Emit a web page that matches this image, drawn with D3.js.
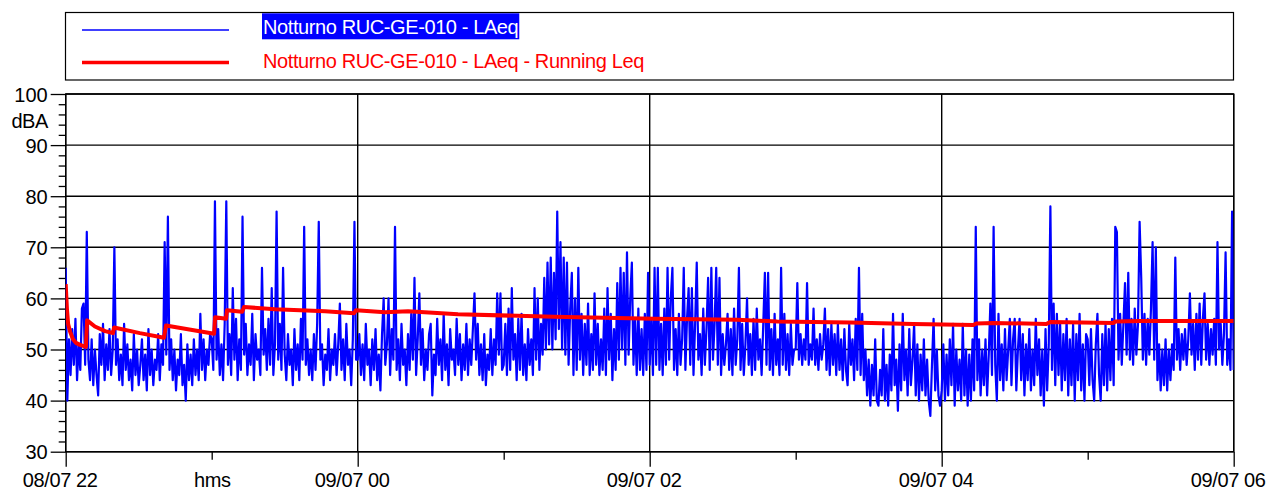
<!DOCTYPE html>
<html>
<head>
<meta charset="utf-8">
<script src="https://cdn.jsdelivr.net/npm/d3@7"></script>
<style>
  html, body { margin: 0; padding: 0; background: #fff; }
  svg { display: block; }
  text { font-family: "Liberation Sans", Arial, sans-serif; }
</style>
</head>
<body>
<svg id="chart" width="1272" height="490"></svg>
<script>
// LAeq samples, 40 s apart, one array per hour starting at 08/07 22:00
const laeq22 = [66,40,52,45,54,47,56,44,51,46, 58,59,47,73,48,44,52,43,50,45,
  41,53,47,55,44,51,46,54,45,50, 70,47,52,44,49,43,55,46,51,44,
  48,42,53,45,50,43,47,52,44,49, 42,54,45,50,43,48,46,53,44,51,
  47,71,49,76,46,52,44,50,42,48, 45,53,43,47,40,51,44,49,43,52,
  45,50,44,57,46,52,44,50,47,53];
const laeq23 = [52,46,79,48,54,45,51,44,55,79, 47,53,45,62,48,56,44,52,46,76,
  49,55,45,51,47,57,44,53,48,50, 45,66,49,54,46,56,47,62,45,51,
  77,48,55,46,66,49,44,53,47,50, 43,54,46,51,44,56,48,74,47,52,
  45,50,44,53,46,55,75,48,51,43, 49,46,54,44,50,47,53,45,51,59,
  46,52,44,55,47,50,43,52,75,48];
const laeq00 = [48,53,45,51,44,55,47,50,43,52, 46,54,44,49,42,53,60,47,51,60,
  45,54,48,74,46,52,44,55,47,50, 43,53,46,57,48,64,45,52,61,47,
  54,44,50,46,53,55,41,49,45,56, 47,52,44,57,46,51,43,54,48,50,
  45,56,47,53,44,51,46,55,45,52, 47,54,61,48,55,45,51,44,53,43,
  49,46,54,45,52,47,61,49,61,46];
const laeq01 = [47,55,45,58,46,62,48,53,44,56, 46,57,45,51,44,54,47,52,45,62,
  48,60,46,55,49,64,50,67,51,68, 50,65,52,77,54,71,50,68,49,67,
  47,58,65,45,60,46,66,48,57,45, 55,47,59,45,53,46,61,47,55,45,
  52,46,58,45,62,48,57,44,54,46, 63,48,66,50,65,47,69,49,60,67,
  47,56,45,58,46,54,45,57,46,65];
const laeq02 = [47,56,45,66,47,66,46,55,45,58, 47,66,48,60,66,46,54,45,57,47,
  52,66,46,56,62,47,62,45,55,67, 48,53,45,58,47,54,64,46,66,48,
  55,66,47,64,45,53,47,51,57,46, 54,45,58,47,52,66,46,55,45,51,
  60,47,53,45,56,46,58,48,52,45, 55,65,47,65,46,54,45,57,47,52,
  45,66,47,57,46,53,45,55,47,50];
const laeq03 = [50,63,48,53,47,52,48,63,47,51, 48,58,47,52,46,53,48,51,58,46,
  54,45,55,47,53,45,55,46,52,44, 54,46,43,55,47,52,44,56,46,66,
  45,57,44,50,41,48,39,47,41,52, 40,39,46,41,54,40,47,39,49,42,
  57,43,48,38,51,42,57,44,50,41, 54,43,48,55,41,51,40,49,42,52,
  41,48,40,37,47,56,42,50,41,39];
const laeq04 = [42,51,40,49,41,52,43,55,39,50, 42,48,40,55,41,50,39,49,40,52,
  42,74,44,52,41,50,43,52,41,49, 59,45,74,47,40,57,44,51,42,54,
  44,50,56,43,52,56,42,50,56,44, 53,41,51,44,54,42,50,43,56,45,
  52,41,50,39,54,42,51,78,46,59, 43,57,45,55,42,53,44,56,41,52,
  43,55,40,53,44,57,42,51,40,53];
const laeq05 = [52,43,54,44,40,51,57,45,40,53, 43,55,42,54,44,56,43,74,73,48,
  57,47,55,63,49,65,48,56,47,58, 49,55,75,64,48,57,47,56,49,58,
  71,48,70,44,51,42,50,43,52,42, 50,44,51,46,68,48,54,46,53,48,
  54,47,52,61,49,55,46,57,48,59, 47,56,61,48,55,47,54,49,56,47,
  71,50,55,47,53,69,47,52,46,77, 46];

// Running Leq: minutes after 22:00 and level in dBA
const runMinutes = [0, 0.5, 1, 1.8, 3, 4.2, 5.9, 8.3, 8.8, 12, 16.2, 19.4, 19.9, 30.5, 40.4, 41.2,
  61, 61.4, 65.9, 66.3, 72.5, 73.3, 86, 106.6, 118.5, 119.3, 131.2, 140.7, 161.2, 200.7,
  241.8, 276, 292.4, 322.4, 348.3, 373, 374.2, 381.2, 403, 404.7, 430.6, 431.4, 441.6, 480];
const runValues = [62.8, 58, 55, 53.5, 52, 51.3, 50.9, 50.5, 55.7, 54.5, 53.6, 53.2, 54.3, 53.2, 52.3, 54.7,
  53.1, 56.3, 56, 57.7, 57.4, 58.3, 57.9, 57.5, 57.1, 57.7, 57.3, 57.5, 56.9, 56.4,
  56, 55.8, 55.5, 55.3, 55, 54.8, 55.1, 55.2, 55, 55.4, 55.2, 55.5, 55.6, 55.6];

// Axis ticks (hours after 22:00) and their labels
const majorHours = [0, 2, 4, 6, 8];
const majorLabels = ["08/07 22", "09/07 00", "09/07 02", "09/07 04", "09/07 06"];
const minorHours = [1, 3, 5, 7];
const timeUnit = "hms";
const yMajor = [30, 40, 50, 60, 70, 80, 90, 100];
const yUnit = "dBA";
const seriesNames = ["Notturno RUC-GE-010 - LAeq", "Notturno RUC-GE-010 - LAeq - Running Leq"];

(function draw() {
  const hourly = [laeq22, laeq23, laeq00, laeq01, laeq02, laeq03, laeq04, laeq05];
  const laeq = [];
  hourly.forEach((arr, h) => arr.forEach((v, i) => laeq.push({ t: h * 60 + i * 40 / 60, v })));
  const running = runMinutes.map((t, i) => ({ t, v: runValues[i] }));

  const svg = d3.select("#chart");
  const pLeft = 65.7, pRight = 1233.7, pTop = 94, pBottom = 451.7;

  const x = d3.scaleLinear().domain([0, 480]).range([pLeft, pRight]);
  const y = d3.scaleLinear().domain([30, 100]).range([pBottom, pTop]);

  // grid
  const grid = svg.append("g");
  grid.selectAll("line.h").data(yMajor).join("line").attr("class", "h")
    .attr("x1", pLeft).attr("x2", pRight)
    .attr("y1", d => y(d)).attr("y2", d => y(d))
    .attr("stroke", "#000").attr("stroke-width", 1.4);
  grid.selectAll("line.v").data(majorHours).join("line").attr("class", "v")
    .attr("x1", d => x(d * 60)).attr("x2", d => x(d * 60))
    .attr("y1", pTop).attr("y2", pBottom)
    .attr("stroke", "#000").attr("stroke-width", 1.4);

  // y axis: major ticks with labels, minor ticks every 2 dBA
  const yMinor = d3.range(30, 101, 2).filter(v => v % 10 !== 0);
  const yAxisMajor = svg.append("g").attr("transform", `translate(${pLeft},0)`)
    .call(d3.axisLeft(y).tickValues(yMajor).tickSize(15).tickPadding(3).tickFormat(d3.format("d")));
  const yAxisMinor = svg.append("g").attr("transform", `translate(${pLeft},0)`)
    .call(d3.axisLeft(y).tickValues(yMinor).tickSize(7).tickFormat(""));
  [yAxisMajor, yAxisMinor].forEach(g => {
    g.select(".domain").remove();
    g.selectAll(".tick line").attr("stroke", "#000").attr("stroke-width", 1.3);
  });
  yAxisMajor.selectAll("text")
    .attr("font-size", 20).attr("fill", "#000").attr("dy", "0.36em")
    .attr("font-family", "Liberation Sans, Arial, sans-serif");

  svg.append("text").attr("x", 48).attr("y", 127.5).attr("text-anchor", "end")
    .attr("font-size", 20).attr("letter-spacing", -0.4).text(yUnit);

  // x axis
  const xAxisMajor = svg.append("g").attr("transform", `translate(0,${pBottom})`)
    .call(d3.axisBottom(x).tickValues(majorHours.map(h => h * 60)).tickSize(15).tickPadding(6)
      .tickFormat((d, i) => majorLabels[i]));
  const xAxisMinor = svg.append("g").attr("transform", `translate(0,${pBottom})`)
    .call(d3.axisBottom(x).tickValues(minorHours.map(h => h * 60)).tickSize(8).tickPadding(13)
      .tickFormat(d => (d === 60 ? timeUnit : "")));
  [xAxisMajor, xAxisMinor].forEach(g => {
    g.select(".domain").remove();
    g.selectAll(".tick line").attr("stroke", "#000").attr("stroke-width", 1.3);
    g.selectAll("text").attr("font-size", 20).attr("fill", "#000")
      .attr("letter-spacing", -0.4).attr("font-family", "Liberation Sans, Arial, sans-serif");
  });
  xAxisMajor.selectAll("text").attr("dx", -6);

  // plot frame
  svg.append("rect").attr("x", pLeft).attr("y", pTop).attr("width", pRight - pLeft).attr("height", pBottom - pTop)
    .attr("fill", "none").attr("stroke", "#000").attr("stroke-width", 1.4);

  // series
  svg.append("clipPath").attr("id", "plot").append("rect")
    .attr("x", pLeft).attr("y", pTop).attr("width", pRight - pLeft).attr("height", pBottom - pTop);
  const line = d3.line().x(d => x(d.t)).y(d => y(d.v));
  svg.append("path").datum(laeq).attr("clip-path", "url(#plot)")
    .attr("d", line).attr("fill", "none").attr("stroke", "#0000ff").attr("stroke-width", 2.2)
    .attr("stroke-linejoin", "round");
  svg.append("path").datum(running).attr("clip-path", "url(#plot)")
    .attr("d", line).attr("fill", "none").attr("stroke", "#ff0000").attr("stroke-width", 4)
    .attr("stroke-linejoin", "round");

  // legend
  const lg = svg.append("g");
  lg.append("rect").attr("x", 65.5).attr("y", 12.5).attr("width", 1168).attr("height", 67.5)
    .attr("fill", "#fff").attr("stroke", "#000").attr("stroke-width", 1.2);
  lg.append("line").attr("x1", 82).attr("x2", 229).attr("y1", 30).attr("y2", 30)
    .attr("stroke", "#0000ff").attr("stroke-width", 1.5);
  lg.append("line").attr("x1", 82).attr("x2", 229).attr("y1", 62.5).attr("y2", 62.5)
    .attr("stroke", "#ff0000").attr("stroke-width", 3.5);
  const hl = lg.append("rect").attr("x", 262).attr("y", 13.3).attr("height", 26).attr("fill", "#0000ff");
  const t1 = lg.append("text").attr("x", 263).attr("y", 34.3).attr("font-size", 20)
    .attr("letter-spacing", -0.4).attr("fill", "#fff").text(seriesNames[0]);
  hl.attr("width", t1.node().getComputedTextLength() + 2);
  lg.append("text").attr("x", 263).attr("y", 68.3).attr("font-size", 20)
    .attr("letter-spacing", -0.4).attr("fill", "#ff0000").text(seriesNames[1]);
})();
</script>
</body>
</html>
